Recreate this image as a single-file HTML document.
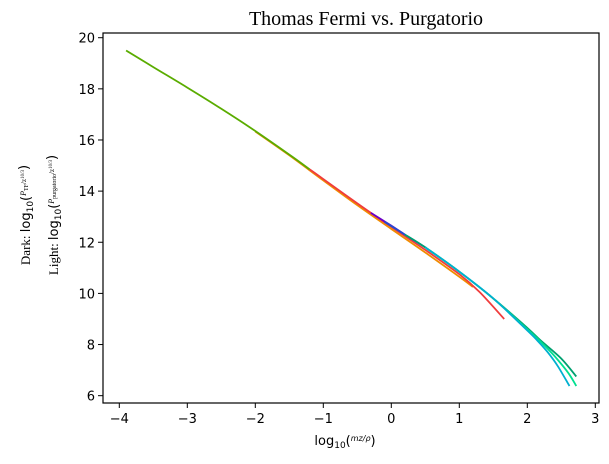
<!DOCTYPE html>
<html><head><meta charset="utf-8"><style>
html,body{margin:0;padding:0;background:#fff;}
svg{display:block;font-family:"DejaVu Sans","Liberation Sans",sans-serif;}
</style></head><body>
<svg id="chart" width="609" height="464" viewBox="0 0 609 464">
<text x="366" y="25" text-anchor="middle" font-family="Liberation Serif,serif" font-size="20">Thomas Fermi vs. Purgatorio</text>
<g id="ylabel" font-family="Liberation Serif,serif" font-size="13">
<text transform="translate(30,215) rotate(-90)" text-anchor="middle">Dark: <tspan font-family="DejaVu Sans,sans-serif">log<tspan font-size="9" dy="3">10</tspan><tspan dy="-3">(</tspan></tspan><tspan font-size="8" font-style="italic" dy="-4">P</tspan><tspan font-size="6" dy="2">TF</tspan><tspan font-size="7" dy="-2">/z</tspan><tspan font-size="5" dy="-2">10/3</tspan><tspan font-family="DejaVu Sans,sans-serif" dy="4">)</tspan></text>
<text transform="translate(58,215) rotate(-90)" text-anchor="middle">Light: <tspan font-family="DejaVu Sans,sans-serif">log<tspan font-size="9" dy="3">10</tspan><tspan dy="-3">(</tspan></tspan><tspan font-size="8" font-style="italic" dy="-4">P</tspan><tspan font-size="6" dy="2">purgatorio</tspan><tspan font-size="7" dy="-2">/z</tspan><tspan font-size="5" dy="-2">10/3</tspan><tspan font-family="DejaVu Sans,sans-serif" dy="4">)</tspan></text>
</g>
<text x="345" y="445" text-anchor="middle" font-size="13">log<tspan font-size="9" dy="3">10</tspan><tspan dy="-3">(</tspan><tspan font-size="8" font-style="italic" dy="-4">mz/ρ</tspan><tspan dy="4">)</tspan></text>
<g id="plot"></g>
</svg>
<script>
const xTicks=[-4,-3,-2,-1,0,1,2,3];
const yTicks=[6,8,10,12,14,16,18,20];
const seriesNames=['orange','green','red','purple','blue','teal','spring','cyan'];
const seriesColors=['#f08c00','#5aac00','#f03c3c','#6a00c8','#2050d0','#00a070','#00e090','#00b0d0'];
const orangeX=[-2,-1.5,-1,-0.5,0,0.5,1,1.2];
const orangeY=[16.33,15.4,14.42,13.45,12.52,11.6,10.65,10.25];
const greenX=[-3.9,-3.5,-3,-2.5,-2,-1.5,-1.2];
const greenY=[19.5,18.85,18.05,17.22,16.35,15.43,14.85];
const redX=[-1.2,-1,-0.5,0,0.5,1,1.3,1.66];
const redY=[14.85,14.47,13.52,12.6,11.7,10.75,10.05,9.0];
const purpleX=[-0.3,0,0.2];
const purpleY=[13.15,12.65,12.3];
const blueX=[-0.1,0.2,0.5];
const blueY=[12.8,12.3,11.8];
const tealX=[0.2,0.5,1,1.5,2,2.2,2.5,2.72];
const tealY=[12.3,11.8,10.85,9.8,8.65,8.15,7.45,6.75];
const springX=[0.5,1,1.5,2,2.2,2.4,2.6,2.72];
const springY=[11.8,10.85,9.8,8.6,8.1,7.55,6.9,6.38];
const cyanX=[0.5,1,1.5,2,2.15,2.3,2.45,2.62];
const cyanY=[11.8,10.85,9.8,8.55,8.15,7.7,7.15,6.38];
const allX=[orangeX,greenX,redX,purpleX,blueX,tealX,springX,cyanX];
const allY=[orangeY,greenY,redY,purpleY,blueY,tealY,springY,cyanY];

const L=103,R=599,T=33,B=403;
function sx(v){return 391.3+v*68;}
function sy(v){return 37.7+(20-v)*25.57;}
const NS='http://www.w3.org/2000/svg';
const g=document.getElementById('plot');
function mk(tag,attrs){const e=document.createElementNS(NS,tag);for(const k in attrs)e.setAttribute(k,attrs[k]);g.appendChild(e);return e;}
function smooth(pts){
  let d='M'+pts[0][0].toFixed(1)+','+pts[0][1].toFixed(1);
  for(let i=0;i<pts.length-1;i++){
    const p0=pts[i-1]||pts[i],p1=pts[i],p2=pts[i+1],p3=pts[i+2]||p2;
    const c1=[p1[0]+(p2[0]-p0[0])/6,p1[1]+(p2[1]-p0[1])/6];
    const c2=[p2[0]-(p3[0]-p1[0])/6,p2[1]-(p3[1]-p1[1])/6];
    d+=' C'+c1.map(v=>v.toFixed(1))+' '+c2.map(v=>v.toFixed(1))+' '+p2.map(v=>v.toFixed(1));
  }
  return d;
}
allX.forEach((xs,i)=>{
  const pts=xs.map((x,j)=>[sx(x),sy(allY[i][j])]);
  const p=mk('path',{d:smooth(pts),fill:'none',stroke:seriesColors[i],'stroke-width':1.8,'stroke-linejoin':'round'});
  
  
});
const fr=mk('rect',{x:L,y:T,width:R-L,height:B-T,fill:'none',stroke:'#000','stroke-width':1.2});


xTicks.forEach(v=>{
  const x=sx(v);
  const t=mk('line',{x1:x,x2:x,y1:B,y2:B+5,stroke:'#000'});
  
  
  const l=mk('text',{x:x,y:B+20,'text-anchor':'middle','font-size':13});
  l.textContent=v<0?'\u2212'+(-v):String(v);
  
  
});
yTicks.forEach(v=>{
  const y=sy(v);
  const t=mk('line',{x1:L-5,x2:L,y1:y,y2:y,stroke:'#000'});
  
  
  const l=mk('text',{x:L-8,y:y+5,'text-anchor':'end','font-size':13});
  l.textContent=String(v);
  
  
});
</script>
</body></html>
